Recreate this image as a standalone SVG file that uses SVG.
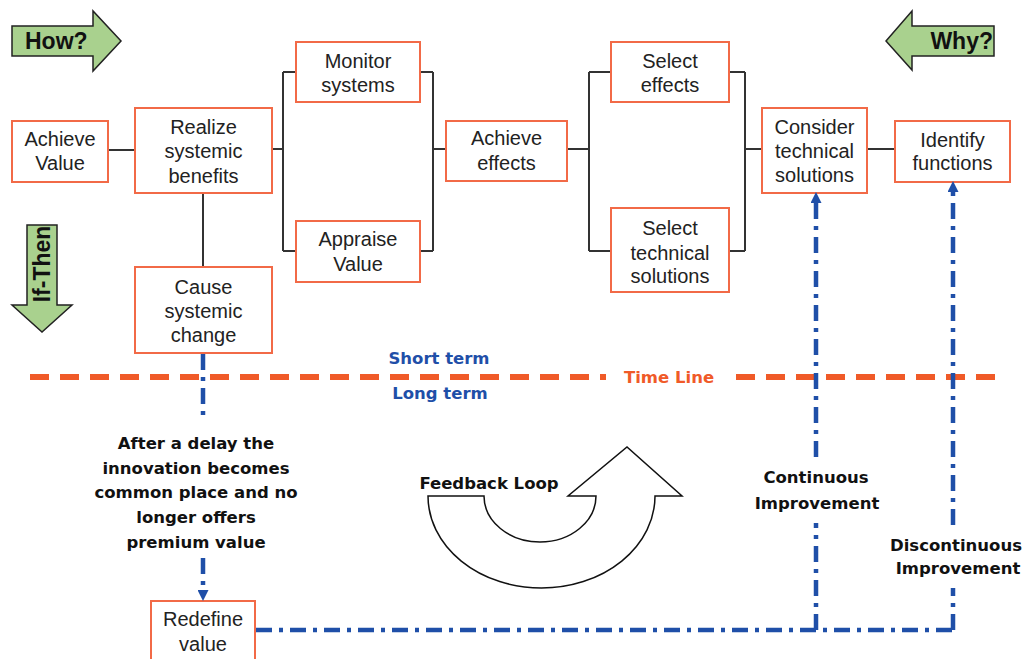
<svg xmlns="http://www.w3.org/2000/svg" width="1029" height="659" viewBox="0 0 1029 659">
<style>
.box{fill:#fff;stroke:#F26A47;stroke-width:2}
.bt{font-family:"Liberation Sans",Arial,sans-serif;font-size:20px;fill:#222;text-anchor:middle;dominant-baseline:central}
.bold{font-family:"DejaVu Sans",Verdana,sans-serif;font-weight:bold;font-size:16.5px;fill:#111;text-anchor:middle;dominant-baseline:central}
.blue{fill:#1F4FA8}
.conn{stroke:#333;stroke-width:2;fill:none}
.dd{stroke:#1F4FA8;stroke-width:4.5;fill:none;stroke-dasharray:16 7 4 7}
.green{fill:#A9D18E;stroke:#222;stroke-width:1.5}
.ga{font-family:"Liberation Sans",Arial,sans-serif;font-weight:bold;font-size:23px;fill:#111}
</style>
<defs>
<marker id="ah" viewBox="0 0 10 10" refX="0" refY="5" markerWidth="11" markerHeight="11" markerUnits="userSpaceOnUse" orient="auto">
<path d="M0,0 L10,5 L0,10 z" fill="#1F4FA8"/>
</marker>
</defs>
<rect width="1029" height="659" fill="#fff"/>

<g id="how">
<path class="green" d="M12,26 L93,26 L93,11 L121,41 L93,71 L93,56 L12,56 Z"/>
<text class="ga" x="25" y="49">How?</text>
</g>
<g id="why">
<path class="green" d="M994,26 L912,26 L912,11 L886,41 L912,70 L912,56 L994,56 Z"/>
<text class="ga" x="993" y="49" text-anchor="end">Why?</text>
</g>
<g id="ifthen">
<path class="green" d="M27,225 L57,225 L57,305 L72,305 L42,332 L12,305 L27,305 Z"/>
<text class="ga" font-size="22" transform="translate(50,264) rotate(-90)" text-anchor="middle">If-Then</text>
</g>

<g id="connectors">
<path class="conn" d="M108,150 L135,150"/>
<path class="conn" d="M272,149 L283,149 M283,72 L283,251 M283,72 L296,72 M283,251 L296,251"/>
<path class="conn" d="M420,72 L433,72 M420,251 L433,251 M433,72 L433,251 M433,149 L446,149"/>
<path class="conn" d="M567,149 L589,149 M589,72 L589,251 M589,72 L611,72 M589,251 L611,251"/>
<path class="conn" d="M729,72 L745,72 M729,251 L745,251 M745,72 L745,251 M745,149 L762,149"/>
<path class="conn" d="M867,149 L895,149"/>
<path class="conn" d="M203,193 L203,267"/>
</g>

<g id="timeline">
<path d="M30,377 L606,377 M736,377 L1003,377" stroke="#F05A28" stroke-width="6" stroke-dasharray="19 11" fill="none"/>
<text class="bold" x="669" y="377" fill="#F05A28" style="fill:#F05A28" font-size="17">Time Line</text>
<text class="bold blue" x="439" y="358" style="fill:#1F4FA8">Short term</text>
<text class="bold blue" x="440" y="393" style="fill:#1F4FA8">Long term</text>
</g>

<g id="achieve-value"><rect class="box" x="12" y="121" width="96" height="61"/>
<text class="bt" x="60" y="139">Achieve</text><text class="bt" x="60" y="163">Value</text></g>
<g id="realize"><rect class="box" x="135" y="108" width="137" height="85"/>
<text class="bt" x="203.5" y="127">Realize</text><text class="bt" x="203.5" y="151">systemic</text><text class="bt" x="203.5" y="176">benefits</text></g>
<g id="monitor"><rect class="box" x="296" y="42" width="124" height="60"/>
<text class="bt" x="358" y="61">Monitor</text><text class="bt" x="358" y="85">systems</text></g>
<g id="appraise"><rect class="box" x="296" y="221" width="124" height="61"/>
<text class="bt" x="358" y="239">Appraise</text><text class="bt" x="358" y="264">Value</text></g>
<g id="achieve-effects"><rect class="box" x="446" y="121" width="121" height="60"/>
<text class="bt" x="506.5" y="138">Achieve</text><text class="bt" x="506.5" y="163">effects</text></g>
<g id="select-effects"><rect class="box" x="611" y="42" width="118" height="60"/>
<text class="bt" x="670" y="61">Select</text><text class="bt" x="670" y="85">effects</text></g>
<g id="select-tech"><rect class="box" x="611" y="208" width="118" height="84"/>
<text class="bt" x="670" y="228">Select</text><text class="bt" x="670" y="253">technical</text><text class="bt" x="670" y="276">solutions</text></g>
<g id="consider"><rect class="box" x="762" y="108" width="105" height="85"/>
<text class="bt" x="814.5" y="127">Consider</text><text class="bt" x="814.5" y="151">technical</text><text class="bt" x="814.5" y="175">solutions</text></g>
<g id="identify"><rect class="box" x="895" y="121" width="115" height="61"/>
<text class="bt" x="952.5" y="140">Identify</text><text class="bt" x="952.5" y="163">functions</text></g>
<g id="cause"><rect class="box" x="135" y="267" width="137" height="86"/>
<text class="bt" x="203.5" y="287">Cause</text><text class="bt" x="203.5" y="311">systemic</text><text class="bt" x="203.5" y="335">change</text></g>
<g id="redefine"><rect class="box" x="151" y="601" width="104" height="62"/>
<text class="bt" x="203" y="619">Redefine</text><text class="bt" x="203" y="644">value</text></g>

<g id="feedback">
<path d="M428,496 L484,496 A56,46 0 0 0 596,496 L568,496 L627,447 L682,496 L655,496 A113.5,92 0 0 1 428,496 Z" fill="#fff" stroke="#111" stroke-width="1.5"/>
<text class="bold" x="489" y="483" font-size="17">Feedback Loop</text>
</g>

<g id="blue-connectors">
<path class="dd" d="M203,354 L203,416"/>
<path class="dd" d="M203,558 L203,590" marker-end="url(#ah)"/>
<path class="dd" d="M256,630 L953,630"/>
<path class="dd" d="M816,630 L816,523"/>
<path class="dd" d="M816,457 L816,203" marker-end="url(#ah)"/>
<path class="dd" d="M953,630 L953,588"/>
<path class="dd" d="M953,525 L953,192" marker-end="url(#ah)"/>
</g>

<g id="labels">
<text class="bold" x="196" y="443">After a delay the</text>
<text class="bold" x="196" y="468">innovation becomes</text>
<text class="bold" x="196" y="492">common place and no</text>
<text class="bold" x="196" y="517">longer offers</text>
<text class="bold" x="196" y="542">premium value</text>
<text class="bold" x="816" y="477">Continuous</text>
<text class="bold" x="817" y="503">Improvement</text>
<text class="bold" x="956" y="545">Discontinuous</text>
<text class="bold" x="958" y="568">Improvement</text>
</g>
</svg>
